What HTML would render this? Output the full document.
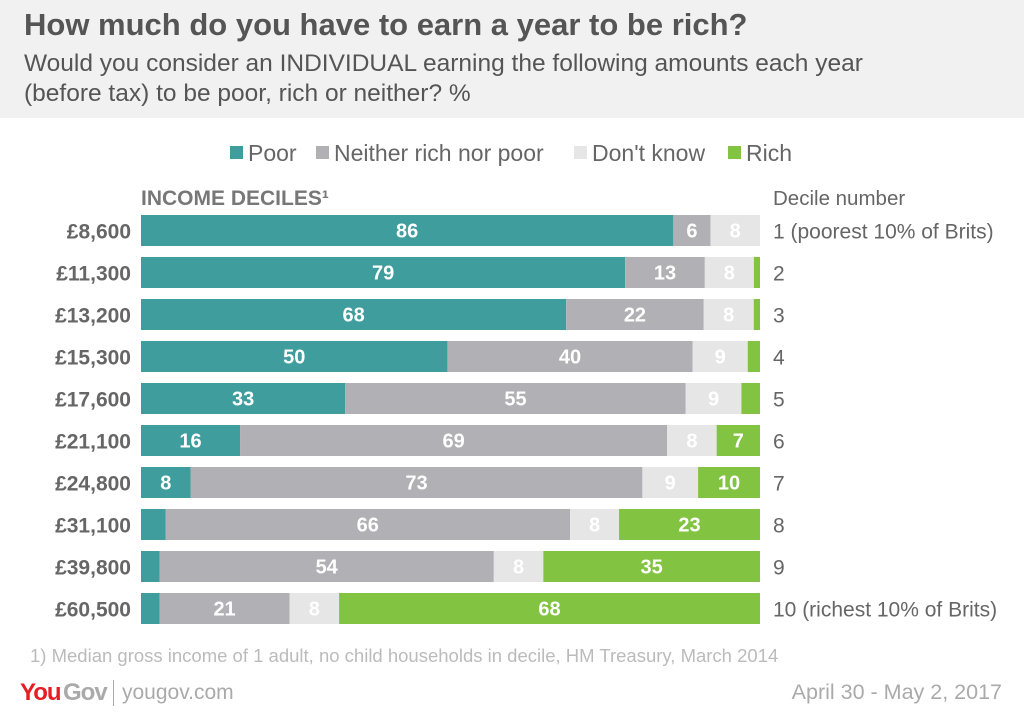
<!DOCTYPE html>
<html><head><meta charset="utf-8">
<style>
body{margin:0;width:1024px;height:722px;background:#fff;font-family:"Liberation Sans",sans-serif;overflow:hidden;position:relative}
.hdr{position:absolute;left:0;top:0;width:1024px;height:118px;background:#f1f1f1}
h1{position:absolute;left:24px;top:7px;margin:0;font-size:31px;font-weight:bold;color:#555}
.sub{position:absolute;left:24px;top:49px;font-size:24.5px;color:#555;line-height:30px}
svg{position:absolute;left:0;top:0}
</style></head><body>
<div class="hdr"></div>
<h1>How much do you have to earn a year to be rich?</h1>
<div class="sub">Would you consider an INDIVIDUAL earning the following amounts each year<br>(before tax) to be poor, rich or neither? %</div>
<svg id="c" width="1024" height="722"></svg>
<script>
const categories=["£8,600","£11,300","£13,200","£15,300","£17,600","£21,100","£24,800","£31,100","£39,800","£60,500"];
const deciles=["1 (poorest 10% of Brits)","2","3","4","5","6","7","8","9","10 (richest 10% of Brits)"];
const poor=[86,79,68,50,33,16,8,4,3,3];
const neither=[6,13,22,40,55,69,73,66,54,21];
const dontKnow=[8,8,8,9,9,8,9,8,8,8];
const rich=[0,1,1,2,3,7,10,23,35,68];
const seriesNames=["Poor","Neither rich nor poor","Don't know","Rich"];
const colors=["#409d9e","#b1b1b5","#e6e6e6","#82c341"];
const svg=document.getElementById('c');const NS="http://www.w3.org/2000/svg";
function mk(t,a,txt){const e=document.createElementNS(NS,t);for(const k in a)e.setAttribute(k,a[k]);if(txt!==undefined)e.textContent=txt;svg.appendChild(e);return e;}
const x0=141,x1=760,y0=215,step=42,bh=31;
const xs=v=>v/100*(x1-x0);
const ys=i=>y0+i*step;
const legX=[230,316,574,728];
seriesNames.forEach((n,i)=>{
 const r=mk('rect',{x:legX[i],y:146,width:13,height:13,fill:colors[i]});
 
 
 const t=mk('text',{x:legX[i]+18,y:161,'font-size':23,fill:'#666'},n);
 
 
});
let t=mk('text',{x:141,y:205,'font-size':21,'font-weight':'bold',fill:'#777'},'INCOME DECILES¹');


t=mk('text',{x:773,y:205,'font-size':20.5,fill:'#666'},'Decile number');


const series=[poor,neither,dontKnow,rich];
categories.forEach((c,i)=>{
 const y=ys(i);
 const tot=poor[i]+neither[i]+dontKnow[i]+rich[i];
 const sc=100/tot;
 let lt=mk('text',{x:131,y:y+bh/2+8,'font-size':21,'font-weight':'bold',fill:'#666','text-anchor':'end'},c);
 
 
 let rt=mk('text',{x:773,y:y+bh/2+8,'font-size':21,fill:'#666'},deciles[i]);
 
 
 let x=x0;
 series.forEach((s,k)=>{
  const w=xs(s[i]*sc);
  if(w<=0)return;
  const r=mk('rect',{x:x,y:y,width:w,height:bh,fill:colors[k]});
  
  
  if(s[i]>=6){
   const vt=mk('text',{x:x+w/2,y:y+bh/2+7,'font-size':20,'font-weight':'bold',fill:'#fff','text-anchor':'middle'},s[i]);
   
   
  }
  x+=w;
 });
});
t=mk('text',{x:30,y:662,'font-size':18.5,fill:'#bbb'},'1) Median gross income of 1 adult, no child households in decile, HM Treasury, March 2014');


t=mk('text',{x:20,y:700,'font-size':24,'font-weight':'bold',fill:'#e31e24','letter-spacing':'-1'},'You');


t=mk('text',{x:63,y:700,'font-size':24,'font-weight':'bold',fill:'#aaa','letter-spacing':'-1'},'Gov');


t=mk('rect',{x:113,y:680,width:1,height:26,fill:'#aaa'});


t=mk('text',{x:122,y:699,'font-size':21,fill:'#aaa'},'yougov.com');


t=mk('text',{x:1002,y:699,'font-size':21.5,fill:'#aaa','text-anchor':'end'},'April 30 - May 2, 2017');


</script>
</body></html>
